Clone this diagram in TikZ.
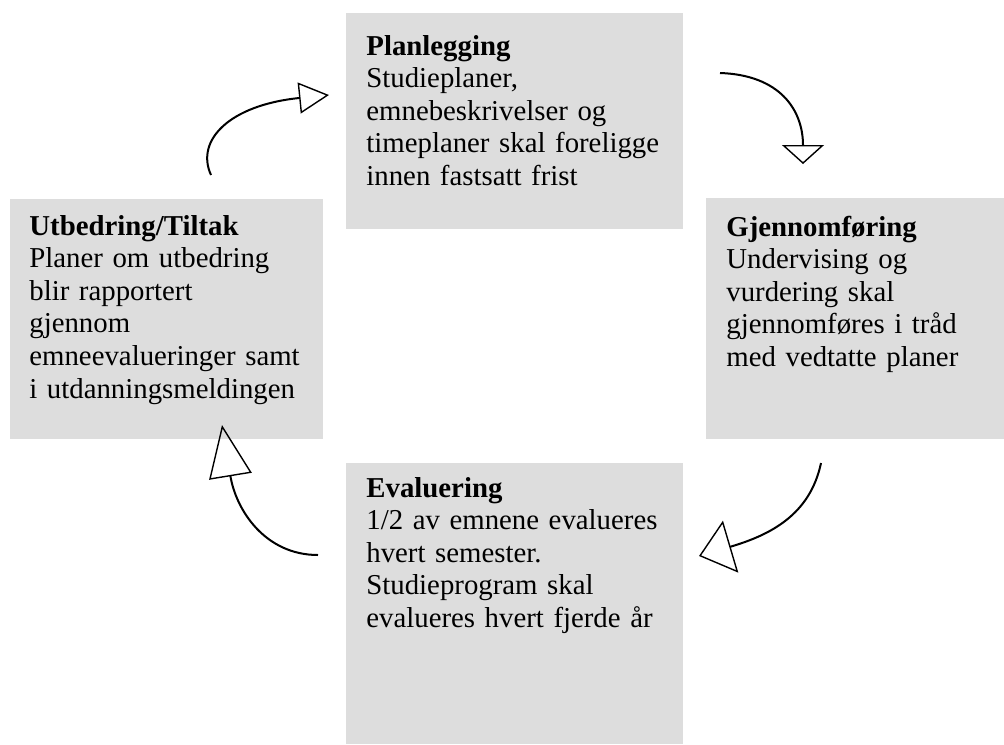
\documentclass[tikz,border=0pt]{standalone}
\usepackage{fontspec}
\setmainfont{Liberation Serif}
\usepackage{tikz}
\usetikzlibrary{arrows.meta}
\definecolor{boxgrey}{RGB}{221,221,221}

\begin{document}
\begin{tikzpicture}[x=0.5pt,y=-0.5pt,
  phase/.style={fill=boxgrey,draw=none,anchor=north west,inner sep=0pt},
  phasetext/.style={anchor=base west,inner sep=0pt,text width=170pt,align=left,
    font=\fontsize{14.4}{16.3}\selectfont},
  cycle/.style={line width=1pt}]
\useasboundingbox (0,0) rectangle (1004,744);

\node (Plan) [phase,minimum width=168.5pt,minimum height=108pt] at (346,13) {};
\node (Gjen) [phase,minimum width=149pt,minimum height=120.5pt] at (706,198) {};
\node (Eval) [phase,minimum width=168.5pt,minimum height=140.5pt] at (346,463) {};
\node (Utb) [phase,minimum width=156.5pt,minimum height=120pt] at (10,199) {};

\node (PlanTxt) [phasetext] at ([shift={(20,42)}]Plan.north west)
  {\textbf{Planlegging}\\Studieplaner,\\emnebeskrivelser og\\timeplaner skal foreligge\\innen fastsatt frist};
\node (GjenTxt) [phasetext] at ([shift={(20,38)}]Gjen.north west)
  {\textbf{Gjennomføring}\\Undervising og\\vurdering skal\\gjennomføres i tråd\\med vedtatte planer};
\node (EvalTxt) [phasetext] at ([shift={(20,34)}]Eval.north west)
  {\textbf{Evaluering}\\1/2 av emnene evalueres\\hvert semester.\\Studieprogram skal\\evalueres hvert fjerde år};
\node (UtbTxt) [phasetext] at ([shift={(19,36)}]Utb.north west)
  {\textbf{Utbedring/Tiltak}\\Planer om utbedring\\blir rapportert\\gjennom\\emneevalueringer samt\\i utdanningsmeldingen};

\coordinate (UtbOut) at (211,175);
\coordinate (PlanIn) at (329,95);
\coordinate (PlanOut) at (720,73);
\coordinate (GjenIn) at (803,164);
\coordinate (GjenOut) at (821,463);
\coordinate (EvalIn) at (699,556);
\coordinate (EvalOut) at (318,555);
\coordinate (UtbIn) at (222,425);

\draw[cycle,-{Triangle[open,length=15pt,width=15.5pt,line width=0.7pt]}]
  (UtbOut) .. controls (195,140) and (230,105) .. (PlanIn);
\draw[cycle,-{Triangle[open,length=9.5pt,width=21pt,line width=0.7pt]}]
  (PlanOut) .. controls (780,75) and (803,110) .. (GjenIn);
\draw[cycle,-{Triangle[open,length=16.5pt,width=27pt,line width=0.7pt]}]
  (GjenOut) .. controls (810,515) and (770,535) .. (EvalIn);
\draw[cycle,-{Triangle[open,length=26pt,width=21.5pt,line width=0.7pt]}]
  (EvalOut) .. controls (265,555) and (236,510) .. (UtbIn);
\end{tikzpicture}
\end{document}
